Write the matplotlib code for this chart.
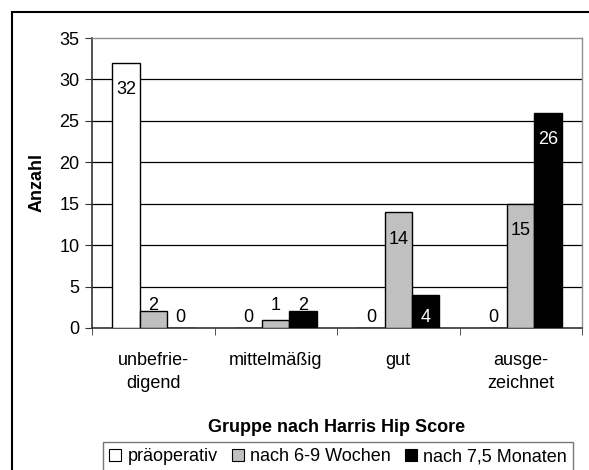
import matplotlib
matplotlib.use("Agg")
import matplotlib.pyplot as plt
from matplotlib.patches import Patch, Rectangle

plt.rcParams["font.family"] = ["Liberation Sans", "DejaVu Sans"]

categories = ["unbefrie-\ndigend", "mittelmäßig", "gut", "ausge-\nzeichnet"]
series_names = ["präoperativ", "nach 6-9 Wochen", "nach 7,5 Monaten"]
praeoperativ = [32, 0, 0, 0]
nach_6_9_wochen = [2, 1, 14, 15]
nach_7_5_monaten = [0, 2, 4, 26]
y_ticks = [0, 5, 10, 15, 20, 25, 30, 35]

W, H = 589, 470
FS = 13
fig = plt.figure(figsize=(W / 100, H / 100), dpi=100)
ax = fig.add_axes([92 / W, 1 - 328 / H, (582 - 92) / W, (328 - 38) / H])

colors = ["white", "#c0c0c0", "black"]
text_colors = ["black", "black", "white"]
width = 0.223
px_per_unit = (328 - 38) / 35

for i, (values, col, tcol) in enumerate(zip([praeoperativ, nach_6_9_wochen, nach_7_5_monaten], colors, text_colors)):
    xs = [k + (i - 1) * width for k in range(len(categories))]
    ax.bar(xs, values, width=width, color=col, edgecolor="black", linewidth=1, zorder=3)
    for x, v in zip(xs, values):
        h = v * px_per_unit
        if v == 0:
            above, c = 10, "black"
        elif h < 25:
            above, c = 22, "black"
        else:
            above, c = max(h - 27, 11), tcol
        ax.annotate(str(v), (x, 0), xytext=(0, above * 0.72), textcoords="offset points",
                    ha="center", va="center", fontsize=FS, color=c, zorder=4)

ax.set_xlim(-0.5, len(categories) - 0.5)
ax.set_ylim(0, 35)
ax.set_yticks(y_ticks)
ax.set_yticklabels([str(t) for t in y_ticks], fontsize=FS)
ax.set_xticks(range(len(categories)))
ax.set_xticklabels(categories, fontsize=FS, linespacing=1.5)
ax.set_xticks([k + 0.5 for k in range(-1, len(categories))], minor=True)
ax.tick_params(axis="x", which="major", length=0, pad=17)
ax.tick_params(axis="x", which="minor", length=5, direction="out", color="#333333")
ax.tick_params(axis="y", length=5, direction="out", color="#333333", pad=4)

for t in y_ticks[1:-1]:
    ax.axhline(t, color="black", linewidth=0.9, zorder=1)

for side in ["left", "bottom"]:
    ax.spines[side].set_color("#333333")
    ax.spines[side].set_linewidth(1.2)
for side in ["top", "right"]:
    ax.spines[side].set_color("#909090")
    ax.spines[side].set_linewidth(1.0)

ax.set_ylabel("Anzahl", fontsize=FS, fontweight="bold", labelpad=10)
ax.set_xlabel("Gruppe nach Harris Hip Score", fontsize=FS, fontweight="bold", labelpad=19)

handles = [Patch(facecolor=c, edgecolor="black", linewidth=0.8) for c in colors]
fig.legend(handles, series_names, ncol=3, loc="upper left",
           bbox_to_anchor=(103 / W, 1 - 442 / H), fontsize=FS, frameon=True,
           fancybox=False, edgecolor="#555555", handlelength=0.65, handleheight=0.65,
           handletextpad=0.35, columnspacing=0.8, borderpad=0.35, borderaxespad=0)

fig.add_artist(Rectangle((12 / W, -0.1), 1.2, 1 - 12 / H + 0.1, transform=fig.transFigure,
                         fill=False, edgecolor="black", linewidth=1.5))

fig.savefig("out.png", dpi=100)
